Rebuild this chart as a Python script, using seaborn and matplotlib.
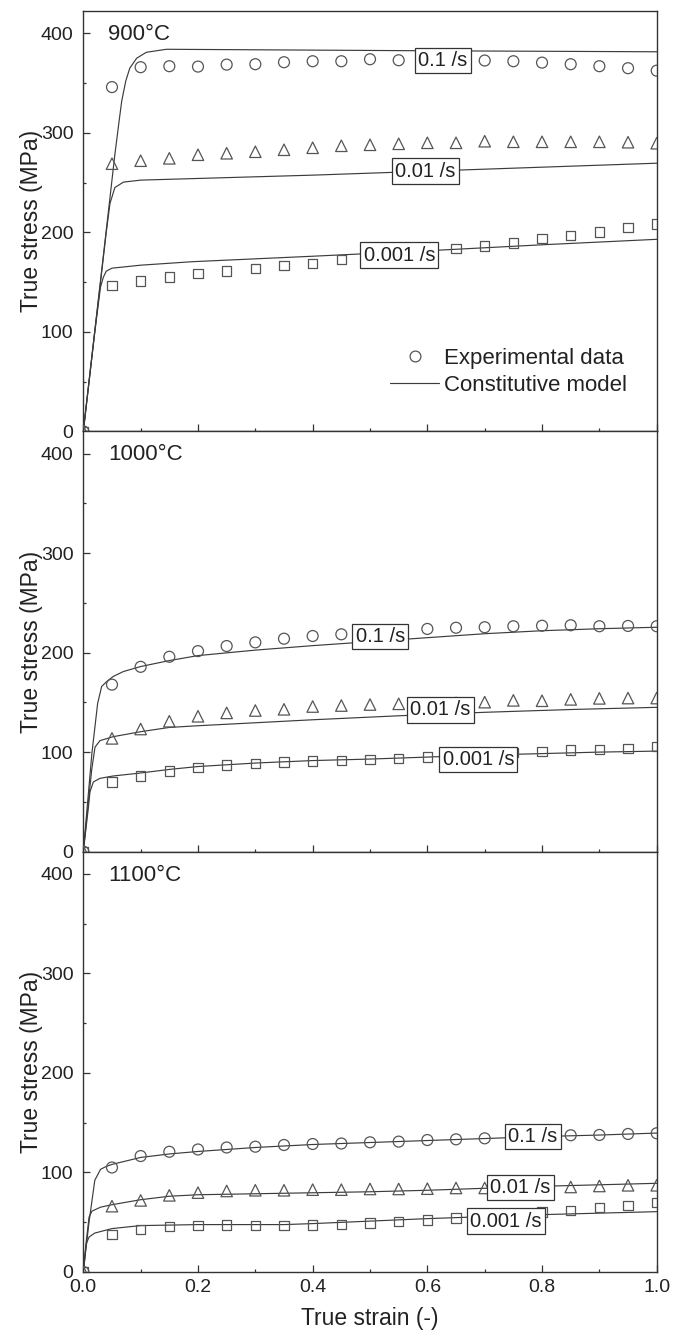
import matplotlib
matplotlib.use("Agg")
import matplotlib.pyplot as plt
import seaborn as sns
import pandas as pd
from matplotlib.lines import Line2D
from matplotlib.ticker import MultipleLocator

# ---------------------------------------------------------------- data
temperatures = ["900°C", "1000°C", "1100°C"]
rates = ["0.1 /s", "0.01 /s", "0.001 /s"]
rate_markers = {"0.1 /s": "o", "0.01 /s": "^", "0.001 /s": "s"}

strain_exp = [0.00, 0.05, 0.10, 0.15, 0.20, 0.25, 0.30, 0.35, 0.40, 0.45, 0.50,
              0.55, 0.60, 0.65, 0.70, 0.75, 0.80, 0.85, 0.90, 0.95, 1.00]

# measured flow stress (MPa)
exp_900_r1 = [0, 346, 366, 367, 366.6, 368.6, 369, 371, 372, 372, 374,
              373, 373, 373, 372.7, 372, 370.6, 369, 367, 365, 362.5]
exp_900_r2 = [0, 269, 272, 274.4, 278, 279.5, 281, 283, 285, 287, 288,
              289, 290, 290, 291.6, 291, 291, 291, 291, 290.6, 289.6]
exp_900_r3 = [0, 146.8, 151, 155, 158.6, 161, 163.7, 166.4, 168.8, 172.5, 176,
              179, 181, 183.6, 186.3, 189.4, 193.8, 197, 200.5, 204.6, 208.3]

exp_1000_r1 = [0, 167.8, 185.7, 195.8, 201.5, 206.6, 210.3, 214, 216.7, 218.4, 220.5,
               222.5, 223.8, 225, 225.5, 226.5, 227, 227.5, 226.5, 226.8, 226.5]
exp_1000_r2 = [0, 113.8, 123.2, 131, 136, 139.4, 141.8, 143, 145.8, 146.8, 147.8,
               148.5, 149, 149.5, 150.2, 152, 151.6, 153, 154, 154.3, 154.3]
exp_1000_r3 = [0, 69.9, 76, 81, 84.4, 87, 88.4, 90, 91, 91.8, 92.5,
               93.8, 95.2, 96.5, 98, 99.6, 100.6, 102, 102.6, 103.6, 105.7]

exp_1100_r1 = [0, 104.9, 116.4, 120.7, 123, 125, 125.8, 127.5, 128.5, 129, 130.2,
               130.9, 132.5, 133.2, 134.2, 135, 136, 137.3, 137.6, 138.6, 139.3]
exp_1100_r2 = [0, 66, 71.8, 76.9, 79.6, 81.3, 82, 82, 82.6, 82.6, 83.3,
               83.3, 83.6, 84.3, 84.3, 85, 85, 85.3, 86.3, 87, 87]
exp_1100_r3 = [0, 37.4, 42.5, 45.5, 46.5, 47.2, 46.5, 46.5, 47.2, 47.6, 48.9,
               50.6, 52.3, 54, 55.5, 57.5, 60, 61.7, 64.4, 66.8, 69.5]

# constitutive model predictions (strain, MPa)
mod_900_r1_x = [0, 0.02, 0.04, 0.055, 0.062, 0.067, 0.074, 0.081, 0.093, 0.11, 0.145, 0.3, 0.6, 1.0]
mod_900_r1_y = [0, 101, 202, 278, 310, 332, 352, 365, 375, 381, 384, 383.5, 382.5, 381.5]
mod_900_r2_x = [0, 0.02, 0.04, 0.0465, 0.055, 0.07, 0.1, 0.19, 0.4, 0.6, 0.8, 1.0]
mod_900_r2_y = [0, 100, 200, 229, 245, 250.5, 252.5, 254, 257.5, 261.5, 265.5, 269.5]
mod_900_r3_x = [0, 0.02, 0.03, 0.035, 0.04, 0.05, 0.1, 0.19, 0.4, 0.6, 0.8, 1.0]
mod_900_r3_y = [0, 100, 145, 155, 161, 164, 167, 170.5, 176, 181.5, 187.5, 193]

mod_1000_r1_x = [0, 0.015, 0.025, 0.032, 0.041, 0.052, 0.07, 0.1, 0.15, 0.2, 0.3, 0.4, 0.5, 0.6, 0.7, 0.8, 0.9, 1.0]
mod_1000_r1_y = [0, 99, 149, 166, 171, 176, 181, 186, 192, 197, 202.5, 207, 211, 215, 219, 222, 224, 225.5]
mod_1000_r2_x = [0, 0.0146, 0.0204, 0.029, 0.052, 0.1, 0.15, 0.2, 0.3, 0.4, 0.55, 0.7, 0.85, 1.0]
mod_1000_r2_y = [0, 82, 105, 111.5, 115.5, 120.5, 124.8, 126.5, 129.5, 132.5, 136.5, 140, 142.8, 145]
mod_1000_r3_x = [0, 0.009, 0.0116, 0.0175, 0.029, 0.052, 0.1, 0.15, 0.2, 0.3, 0.4, 0.5, 0.6, 0.7, 0.8, 0.9, 1.0]
mod_1000_r3_y = [0, 45, 60, 70, 73.6, 76, 79, 82.6, 85.5, 89, 91.5, 93, 95, 97, 98.5, 100, 101]

mod_1100_r1_x = [0, 0.01, 0.02, 0.03, 0.04, 0.05, 0.1, 0.15, 0.2, 0.3, 0.4, 0.5, 0.6, 0.7, 0.8, 0.9, 1.0]
mod_1100_r1_y = [0, 50, 92, 103, 106, 108, 115, 118.5, 121, 125, 128, 130, 132, 134, 136, 137.5, 139.5]
mod_1100_r2_x = [0, 0.005, 0.01, 0.015, 0.03, 0.05, 0.1, 0.15, 0.2, 0.3, 0.4, 0.5, 0.6, 0.7, 0.8, 0.9, 1.0]
mod_1100_r2_y = [0, 30, 55, 61, 65, 67.5, 72.5, 76, 77.5, 78.5, 79.5, 80.5, 82, 84, 86, 87.5, 89]
mod_1100_r3_x = [0, 0.005, 0.01, 0.02, 0.05, 0.1, 0.2, 0.35, 0.4, 0.5, 0.6, 0.7, 0.8, 0.9, 1.0]
mod_1100_r3_y = [0, 28, 35, 39, 43.5, 46.5, 47.5, 47.5, 48.5, 51, 53.5, 55.5, 57.5, 59, 60.5]

# strain-rate label anchors (strain, MPa)
label_pos = {
    "900°C":  [(0.627, 373.0), (0.597, 261.6), (0.551, 177.2)],
    "1000°C": [(0.518, 216.0), (0.623, 142.4), (0.689, 92.8)],
    "1100°C": [(0.784, 135.9), (0.762, 84.7), (0.737, 51.0)],
}

experiments = {
    "900°C": [exp_900_r1, exp_900_r2, exp_900_r3],
    "1000°C": [exp_1000_r1, exp_1000_r2, exp_1000_r3],
    "1100°C": [exp_1100_r1, exp_1100_r2, exp_1100_r3],
}
models = {
    "900°C": [(mod_900_r1_x, mod_900_r1_y), (mod_900_r2_x, mod_900_r2_y), (mod_900_r3_x, mod_900_r3_y)],
    "1000°C": [(mod_1000_r1_x, mod_1000_r1_y), (mod_1000_r2_x, mod_1000_r2_y), (mod_1000_r3_x, mod_1000_r3_y)],
    "1100°C": [(mod_1100_r1_x, mod_1100_r1_y), (mod_1100_r2_x, mod_1100_r2_y), (mod_1100_r3_x, mod_1100_r3_y)],
}

# ---------------------------------------------------------------- style
sns.set_style("ticks")
plt.rcParams["font.family"] = ["Liberation Sans", "DejaVu Sans"]
TEXT = "#222222"
SPINE = "#333333"
LINE = "#3c3c3c"
MARK = "#555555"
plt.rcParams.update({
    "text.color": TEXT,
    "axes.labelcolor": TEXT,
    "xtick.color": SPINE,
    "ytick.color": SPINE,
    "xtick.labelcolor": TEXT,
    "ytick.labelcolor": TEXT,
})

marker_size = {"o": 62, "^": 68, "s": 46}

fig = plt.figure(figsize=(6.84, 13.35), dpi=100)
left, width, height = 0.1218, 0.8383, 0.3148
bottoms = [0.6769, 0.3621, 0.0473]
YMAX = 422.4

for i, temp in enumerate(temperatures):
    ax = fig.add_axes([left, bottoms[i], width, height])
    exp_df = pd.DataFrame({
        "strain": strain_exp * 3,
        "stress": sum(experiments[temp], []),
        "rate": sum([[r] * len(strain_exp) for r in rates], []),
    })
    for j, rate in enumerate(rates):
        mx, my = models[temp][j]
        sns.lineplot(x=mx, y=my, ax=ax, color=LINE, linewidth=0.85,
                     estimator=None, sort=False, legend=False, zorder=2)
        sub = exp_df[exp_df["rate"] == rate]
        m = rate_markers[rate]
        sns.scatterplot(data=sub, x="strain", y="stress", ax=ax, marker=m,
                        s=marker_size[m], facecolors="none", edgecolors=MARK,
                        linewidth=0.9, legend=False, zorder=3)
        lx, ly = label_pos[temp][j]
        ax.text(lx, ly, rate, fontsize=14.5, ha="center", va="center", zorder=5,
                bbox=dict(boxstyle="square,pad=0.16", facecolor="white",
                          edgecolor=SPINE, linewidth=0.9))

    ax.set_xlim(0, 1.0)
    ax.set_ylim(0, YMAX)
    ax.xaxis.set_major_locator(MultipleLocator(0.2))
    ax.xaxis.set_minor_locator(MultipleLocator(0.1))
    ax.yaxis.set_major_locator(MultipleLocator(100))
    ax.yaxis.set_minor_locator(MultipleLocator(50))
    ax.tick_params(which="both", direction="in", top=False, right=False, width=0.9)
    ax.tick_params(which="major", length=5)
    ax.tick_params(which="minor", length=2.5)
    ax.tick_params(axis="x", labelsize=14, pad=5)
    ax.tick_params(axis="y", labelsize=14, pad=7)
    ax.xaxis.set_major_formatter(plt.FuncFormatter(lambda v, p: f"{v:.1f}"))
    for sp in ax.spines.values():
        sp.set_color(SPINE)
        sp.set_linewidth(1.0)

    ax.set_ylabel("True stress (MPa)", fontsize=16.5)
    ax.yaxis.set_label_coords(-0.07, 0.5)
    if i < 2:
        ax.tick_params(axis="x", labelbottom=False)
        ax.set_xlabel("")
    else:
        ax.set_xlabel("True strain (-)", fontsize=16.5)
        ax.xaxis.set_label_coords(0.5, -0.084)

    ax.text(0.0436, 0.931, temp, transform=ax.transAxes, fontsize=16,
            va="baseline", ha="left")

    if i == 0:
        handles = [
            Line2D([], [], linestyle="none", marker="o", markersize=7.8,
                   markerfacecolor="none", markeredgecolor=MARK, markeredgewidth=0.9),
            Line2D([], [], color=LINE, linewidth=0.85),
        ]
        ax.legend(handles, ["Experimental data", "Constitutive model"],
                  loc="upper left", bbox_to_anchor=(0.535, 0.198),
                  frameon=False, fontsize=16, borderpad=0, borderaxespad=0,
                  handlelength=2.2, handletextpad=0.22, labelspacing=0.25)

fig.savefig("out.png", dpi=100)
